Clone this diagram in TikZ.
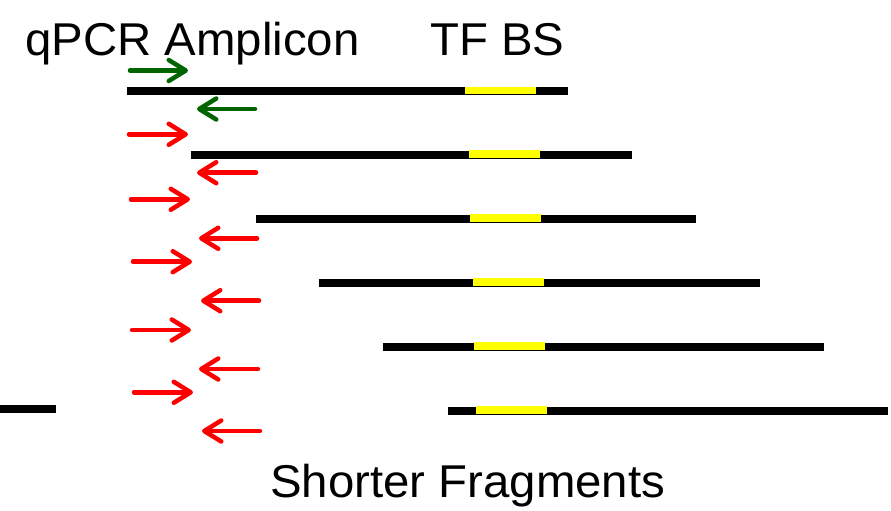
\documentclass[tikz,border=0pt]{standalone}
\usepackage{fontspec}
\setmainfont[FakeStretch=1.03]{Liberation Sans}
\usetikzlibrary{arrows.meta}
\definecolor{primergreen}{RGB}{0,100,0}
\definecolor{bsyellow}{RGB}{255,255,0}
\tikzset{
  fragment/.style={line width=8pt, black},
  bsite/.style={line width=7.5pt, bsyellow},
  primer/.style={line width=4.5pt, line cap=round,
    -{Straight Barb[length=17pt,width=21pt,line cap=round,line join=round]}},
  label/.style={font=\fontsize{46}{50}\selectfont, inner sep=0pt, anchor=base west}
}
\begin{document}
\begin{tikzpicture}[x=1pt,y=-1pt]
  \useasboundingbox (0,0) rectangle (891,511);

  % titles
  \node[label] (amp) at (25,55.5) {qPCR Amplicon};
  \node[label] (tfbs) at (430,55.5) {TF BS};
  \node[label] (short) at (270,497.5) {Shorter Fragments};

  % DNA fragments with the binding site marked in yellow
  \foreach \i/\y/\xa/\xb/\ya/\yb in {
      1/91/127/568/465/536,
      2/154.5/191/632/469/540,
      3/218.5/256/696/470/541,
      4/282.5/319/760/473/544,
      5/346.5/383/824/474/545,
      6/410.5/448/888/476/547} {
    \coordinate (f\i a) at (\xa,\y);
    \coordinate (f\i b) at (\xb,\y);
    \coordinate (s\i a) at (\ya,\y-0.7);
    \coordinate (s\i b) at (\yb,\y-0.7);
    \draw[fragment] (f\i a) -- (f\i b);
    \draw[bsite] (s\i a) -- (s\i b);
  }
  \coordinate (f0a) at (0,409);
  \coordinate (f0b) at (56,409);
  \draw[fragment] (f0a) -- (f0b);

  % primer pair for the amplicon
  \coordinate (g1t) at (130,70.5);  \coordinate (g1h) at (188,70.5);
  \coordinate (g2t) at (255,109);   \coordinate (g2h) at (197,109);
  \draw[primer, primergreen] (g1t) -- (g1h);
  \draw[primer, primergreen] (g2t) -- (g2h);

  % primers on the shorter fragments
  \foreach \i/\y/\xa/\xb in {
      1/134.3/129/188, 2/199.3/131/190, 3/261.7/133/192,
      4/330/132/191, 5/392.3/134/193} {
    \coordinate (rf\i t) at (\xa,\y);
    \coordinate (rf\i h) at (\xb,\y);
    \draw[primer, red] (rf\i t) -- (rf\i h);
  }
  \foreach \i/\y/\xa/\xb in {
      1/172.7/256/197, 2/238.3/257/199, 3/300.7/259/201,
      4/369/258/199, 5/431/260/202} {
    \coordinate (rr\i t) at (\xa,\y);
    \coordinate (rr\i h) at (\xb,\y);
    \draw[primer, red] (rr\i t) -- (rr\i h);
  }
\end{tikzpicture}
\end{document}
